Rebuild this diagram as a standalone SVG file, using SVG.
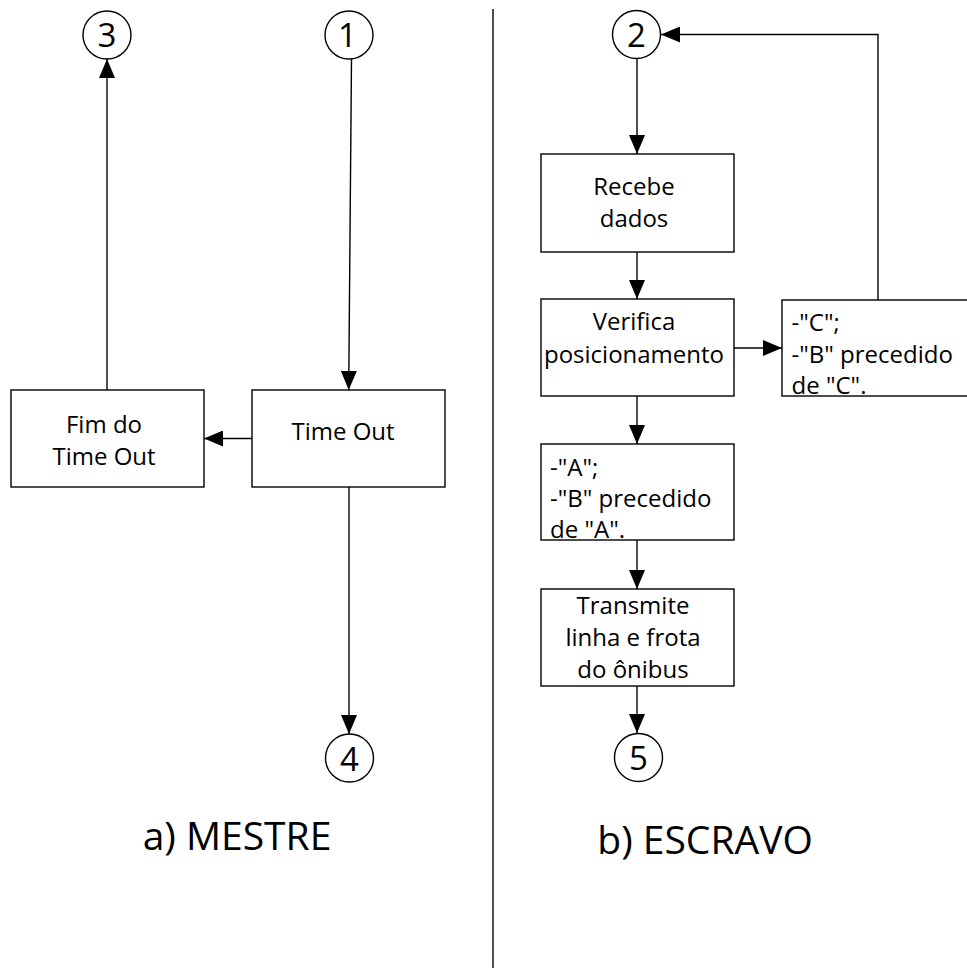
<svg xmlns="http://www.w3.org/2000/svg" width="967" height="974" viewBox="0 0 967 974">
  <style>
    .box { fill: #ffffff; stroke: #000000; stroke-width: 1.4; }
    .conn { fill: none; stroke: #000000; stroke-width: 1.4; }
    .arrow { marker-end: url(#head); }
    .lbl { font-family: "Open Sans", "Noto Sans", "Liberation Sans", sans-serif; font-size: 24px; fill: #000000; }
    .mid { text-anchor: middle; }
    .num { font-family: "Open Sans", "Noto Sans", "Liberation Sans", sans-serif; font-size: 33px; fill: #000000; text-anchor: middle; }
    .title { font-family: "Open Sans", "Noto Sans", "Liberation Sans", sans-serif; font-size: 39px; fill: #000000; text-anchor: middle; }
  </style>
  <defs>
    <marker id="head" markerUnits="userSpaceOnUse" markerWidth="19" markerHeight="16" refX="19" refY="8" orient="auto">
      <path d="M0,0 L19,8 L0,16 z" fill="#000000"/>
    </marker>
  </defs>
  <rect width="967" height="974" fill="#ffffff"/>

  <!-- divider between the two panels -->
  <line x1="493" y1="9" x2="493" y2="968" stroke="#000000" stroke-width="1.4"/>

  <!-- connectors -->
  <g id="connectors">
    <line class="conn arrow" x1="351.5" y1="59" x2="348.7" y2="390"/>
    <line class="conn arrow" x1="107" y1="390" x2="107" y2="59"/>
    <line class="conn arrow" x1="252" y1="438.5" x2="204" y2="438.5"/>
    <line class="conn arrow" x1="349" y1="487" x2="349" y2="734"/>
    <line class="conn arrow" x1="637" y1="59" x2="637" y2="154"/>
    <line class="conn arrow" x1="637" y1="252" x2="637" y2="299"/>
    <line class="conn arrow" x1="734" y1="348" x2="782" y2="348"/>
    <polyline class="conn arrow" points="878,300 878,34.5 661,34.5"/>
    <line class="conn arrow" x1="637" y1="396" x2="637" y2="444"/>
    <line class="conn arrow" x1="637" y1="540" x2="637" y2="589"/>
    <line class="conn arrow" x1="637" y1="686" x2="637" y2="733"/>
  </g>

  <!-- a) MESTRE -->
  <g id="c3">
    <circle class="box" cx="107" cy="35" r="24"/>
    <text class="num" x="107" y="47">3</text>
  </g>
  <g id="c1">
    <circle class="box" cx="349" cy="35" r="24"/>
    <text class="num" x="347.5" y="47">1</text>
  </g>
  <g id="fim">
    <rect class="box" x="11" y="390" width="193" height="97"/>
    <text class="lbl mid" x="104" y="433">Fim do</text>
    <text class="lbl mid" x="104" y="465">Time Out</text>
  </g>
  <g id="timeout">
    <rect class="box" x="252" y="390" width="193" height="97"/>
    <text class="lbl mid" x="343" y="440">Time Out</text>
  </g>
  <g id="c4">
    <circle class="box" cx="349.5" cy="758" r="24"/>
    <text class="num" x="349.5" y="771">4</text>
  </g>
  <text class="title" x="237" y="850">a) MESTRE</text>

  <!-- b) ESCRAVO -->
  <g id="c2">
    <circle class="box" cx="636.5" cy="34.5" r="24"/>
    <text class="num" x="636.5" y="47">2</text>
  </g>
  <g id="recebe">
    <rect class="box" x="541" y="154" width="193" height="98"/>
    <text class="lbl mid" x="634" y="195">Recebe</text>
    <text class="lbl mid" x="634" y="227">dados</text>
  </g>
  <g id="verifica">
    <rect class="box" x="541" y="299" width="193" height="97"/>
    <text class="lbl mid" x="634" y="330">Verifica</text>
    <text class="lbl mid" x="634" y="363">posicionamento</text>
  </g>
  <g id="casoC">
    <rect class="box" x="782" y="300" width="200" height="96"/>
    <text class="lbl" x="791.5" y="330.5">-"C";</text>
    <text class="lbl" x="791.5" y="362.5">-"B" precedido</text>
    <text class="lbl" x="791.5" y="393.5">de "C".</text>
  </g>
  <g id="casoA">
    <rect class="box" x="541" y="444" width="193" height="96"/>
    <text class="lbl" x="550" y="476">-"A";</text>
    <text class="lbl" x="550" y="507">-"B" precedido</text>
    <text class="lbl" x="550" y="538">de "A".</text>
  </g>
  <g id="transmite">
    <rect class="box" x="541" y="589" width="193" height="97"/>
    <text class="lbl mid" x="633" y="614">Transmite</text>
    <text class="lbl mid" x="633" y="646">linha e frota</text>
    <text class="lbl mid" x="633" y="678">do ônibus</text>
  </g>
  <g id="c5">
    <circle class="box" cx="638.5" cy="757.5" r="24"/>
    <text class="num" x="638.5" y="770">5</text>
  </g>
  <text class="title" x="705" y="854">b) ESCRAVO</text>
</svg>
